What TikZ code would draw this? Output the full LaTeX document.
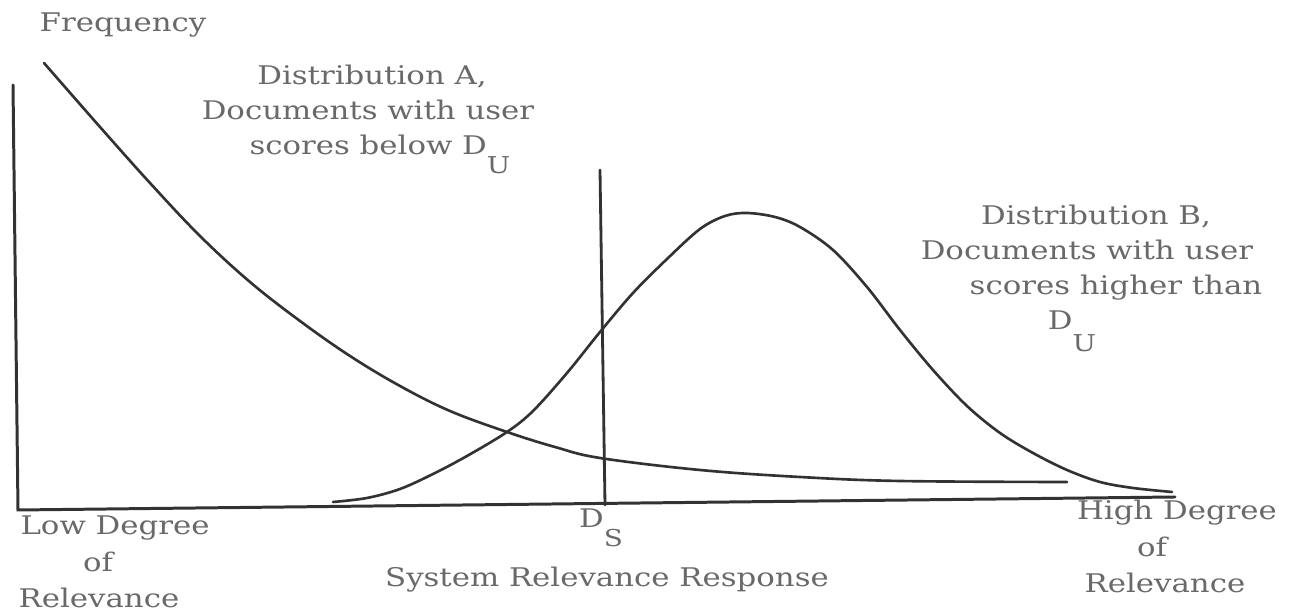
\documentclass[tikz,border=0pt]{standalone}
\usepackage{fontspec}
\setmainfont{DejaVu Serif}[FakeStretch=1.2]
\definecolor{inkText}{RGB}{105,105,105}
\definecolor{inkLine}{RGB}{50,50,50}
% letter with a lowered index, as typed on the original sheet
\newcommand{\lowidx}[3]{#1\raisebox{-#3}{\fontsize{6.6}{7}\selectfont #2}}
\newcommand{\lblsize}{\fontsize{7.3}{10}\selectfont}
\begin{document}
\begin{tikzpicture}[x=0.01cm,y=-0.01cm,
  curve/.style={draw=inkLine, line width=0.75pt, line cap=round},
  axisline/.style={draw=inkLine, line width=0.85pt, line cap=round},
  lbl/.style={text=inkText, font=\lblsize, inner sep=0pt, anchor=base}]
\useasboundingbox (0,0) rectangle (1290,616);

% axes
\coordinate (ytop) at (13,85);
\coordinate (origin) at (18,510);
\coordinate (xend) at (1175,497);
\draw[axisline] (ytop) -- (origin) -- (xend);

% threshold D_S
\coordinate (dstop) at (600,170);
\coordinate (dsbot) at (605,505);
\draw[axisline, line width=0.8pt] (dstop) -- (dsbot);

% distribution A (low relevance documents)
\draw[curve] plot[smooth, tension=0.6] coordinates {
  (44,63) (100,127) (150,183) (200,236) (250,282) (300,321) (350,356)
  (400,386) (450,411) (507,432) (555,447) (600,458) (700,470) (800,477)
  (900,481) (1067,482)};

% distribution B (high relevance documents)
\draw[curve] plot[smooth, tension=0.55] coordinates {
  (333,502) (367,498) (400,489) (433,474) (467,456) (507,432) (533,411)
  (567,373) (600,332) (633,293) (667,259) (700,229) (725,216) (747,213)
  (775,217) (800,227) (833,250) (867,287) (900,330) (933,370) (967,406)
  (1000,433) (1033,453) (1067,470) (1100,482) (1133,488) (1172,492)};

% labels
\node[lbl] (freq) at (123,32) {Frequency};

\node[lbl] (distA1) at (372,85) {Distribution A,};
\node[lbl] (distA2) at (368,120) {Documents with user};
\node[lbl] (distA3) at (380,155) {scores below \lowidx{D}{U}{5.4pt}};

\node[lbl] (distB1) at (1096,225) {Distribution B,};
\node[lbl] (distB2) at (1087,260) {Documents with user};
\node[lbl] (distB3) at (1116,295) {scores higher than};
\node[lbl] (distB4) at (1072,330) {\lowidx{D}{U}{6pt}};

\node[lbl] (low1) at (115,535) {Low Degree};
\node[lbl] (low2) at (98,572) {of};
\node[lbl] (low3) at (99,608) {Relevance};

\node[lbl] (ds) at (601,528) {\lowidx{D}{S}{5.4pt}};
\node[lbl] (xlab) at (607,587) {System Relevance Response};

\node[lbl] (high1) at (1177,520) {High Degree};
\node[lbl] (high2) at (1152,557) {of};
\node[lbl] (high3) at (1165,593) {Relevance};
\end{tikzpicture}
\end{document}
